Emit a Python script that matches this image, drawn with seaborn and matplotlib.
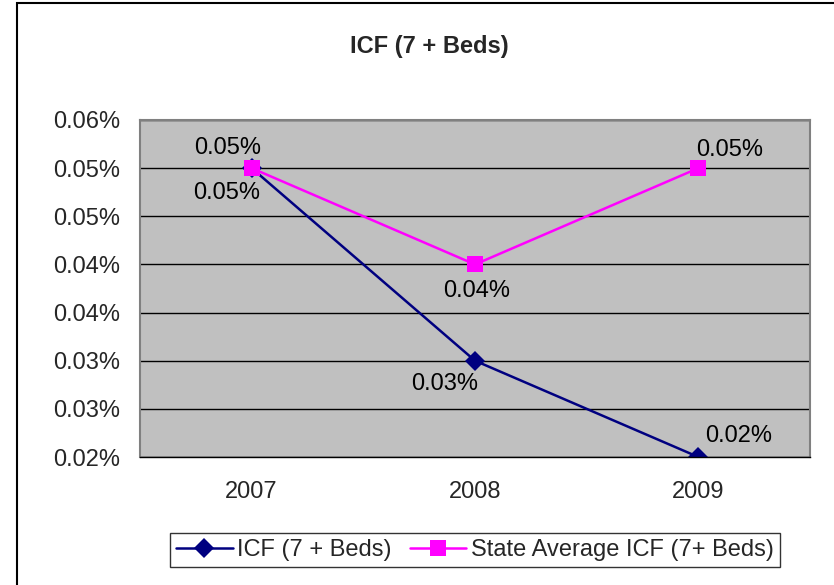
import matplotlib
matplotlib.use("Agg")
import matplotlib.pyplot as plt
import matplotlib.patches as mpatches
from matplotlib.ticker import FuncFormatter, MultipleLocator, FixedLocator
import seaborn as sns
import pandas as pd

years = ["2007", "2008", "2009"]
icf = [0.050, 0.030, 0.020]
state_avg = [0.050, 0.040, 0.050]
series_names = ["ICF (7 + Beds)", "State Average ICF (7+ Beds)"]

sns.set_style("white")
plt.rcParams["font.family"] = ["Liberation Sans", "DejaVu Sans"]
FS = 17


def pct(v, pos=None):
    return f"{v + 1e-9:.2f}%"


df = pd.DataFrame({
    "Year": years * 2,
    "Value": icf + state_avg,
    "Series": [series_names[0]] * 3 + [series_names[1]] * 3,
})

fig = plt.figure(figsize=(8.34, 5.85), dpi=100)
ax = fig.add_axes([140 / 834, 1 - 457 / 585, 670 / 834, 337 / 585])
ax.set_facecolor("#C0C0C0")

# outer chart border (right and bottom edges fall outside the image)
fig.patches.append(mpatches.Rectangle((17 / 834, -0.1), 1, 1.1 - 3 / 585, transform=fig.transFigure,
                                      fill=False, edgecolor="black", linewidth=1.5))

ax.set_ylim(0.020, 0.055)
ax.yaxis.set_major_locator(MultipleLocator(0.005))
ax.yaxis.set_major_formatter(FuncFormatter(pct))
ax.grid(axis="y", color="black", linewidth=1)
ax.set_axisbelow(True)

sns.lineplot(data=df, x="Year", y="Value", hue="Series", style="Series",
             palette={series_names[0]: "#000080", series_names[1]: "#FF00FF"},
             markers={series_names[0]: "D", series_names[1]: "s"},
             dashes=False, markersize=10, linewidth=1.8, markeredgewidth=0,
             ax=ax, legend=True, sort=False)
for line in ax.lines:
    if line.get_marker() == "D":
        line.set_markersize(10)
    elif line.get_marker() == "s":
        line.set_markersize(11)

ax.set_xlim(-0.5, 2.5)
ax.set_xticks(range(len(years)))
ax.set_xticklabels(years)
ax.xaxis.set_minor_locator(FixedLocator([-0.5, 0.5, 1.5, 2.5]))
ax.tick_params(axis="x", which="major", length=0, labelsize=FS, pad=17)
ax.tick_params(axis="x", which="minor", length=6, width=1, color="black", direction="out")
ax.tick_params(axis="y", length=6, width=1, color="black", direction="out", labelsize=FS, pad=8)
ax.set_xlabel("")
ax.set_ylabel("")

for side in ["top", "right", "left"]:
    ax.spines[side].set_color("#808080")
    ax.spines[side].set_linewidth(1.5)
ax.spines["bottom"].set_color("black")
ax.spines["bottom"].set_linewidth(1)

icf_offsets = [(-25, -25), (-30, -23), (40, 21)]
state_offsets = [(-24, 20), (2, -27), (31, 18)]
for i in range(len(years)):
    ax.annotate(pct(icf[i]), (i, icf[i]), xytext=icf_offsets[i], textcoords="offset pixels",
                ha="center", va="center", fontsize=FS, color="black")
    ax.annotate(pct(state_avg[i]), (i, state_avg[i]), xytext=state_offsets[i], textcoords="offset pixels",
                ha="center", va="center", fontsize=FS, color="black")

fig.text(429 / 834, 1 - 47 / 585, "ICF (7 + Beds)", ha="center", va="center",
         fontsize=FS, fontweight="bold")

handles, labels = ax.get_legend_handles_labels()
ax.get_legend().remove()
leg = fig.legend(handles, labels, loc="center", bbox_to_anchor=(475 / 834, 1 - 550 / 585),
                 ncol=2, fontsize=FS, frameon=True, fancybox=False, edgecolor="black",
                 handlelength=2.4, handletextpad=0.2, columnspacing=0.75, borderpad=0.25,
                 borderaxespad=0)
leg.get_frame().set_linewidth(1)

fig.savefig("out.png", dpi=100)
